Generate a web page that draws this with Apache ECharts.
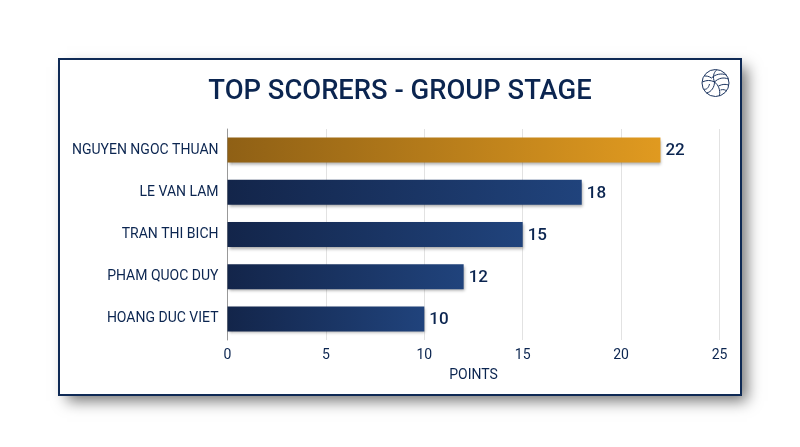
<!DOCTYPE html>
<html>
<head>
<meta charset="utf-8">
<style>
html,body{margin:0;padding:0;background:#fff;}
#show{width:800px;height:447px;}
</style>
<script src="https://cdn.jsdelivr.net/npm/echarts@6/dist/echarts.min.js"></script>
</head>
<body>
<div id="show"></div>
<script>
var players = ['NGUYEN NGOC THUAN', 'LE VAN LAM', 'TRAN THI BICH', 'PHAM QUOC DUY', 'HOANG DUC VIET'];
var points = [22, 18, 15, 12, 10];
var navy = '#0b2550';

function barColor(i) {
    var c = i === 0 ? ['#8f6015', '#e09a20'] : ['#13254a', '#20437c'];
    return new echarts.graphic.LinearGradient(0, 0, 1, 0, [
        {offset: 0, color: c[0]},
        {offset: 1, color: c[1]}
    ]);
}

var barData = [];
for (var i = 0; i < points.length; i++) {
    barData.push({value: points[i], itemStyle: {color: barColor(i)}});
}

// seams of the ball icon
function seam(x1, y1, cpx1, cpy1, cpx2, cpy2, x2, y2) {
    return {
        type: 'bezierCurve',
        shape: {x1: x1, y1: y1, cpx1: cpx1, cpy1: cpy1, cpx2: cpx2, cpy2: cpy2, x2: x2, y2: y2},
        style: {fill: 'none', stroke: '#1c3560', lineWidth: 1}
    };
}

var myChart = echarts.init(document.getElementById('show'));
var option = {
    animation: false,
    backgroundColor: '#fff',
    title: {
        text: 'TOP SCORERS - GROUP STAGE',
        left: 'center',
        top: 74,
        textStyle: {fontFamily: 'Roboto', fontSize: 27.4, fontWeight: 500, color: navy}
    },
    grid: {left: 227.5, right: 80.5, top: 129, height: 211},
    xAxis: {
        type: 'value',
        min: 0,
        max: 25,
        interval: 5,
        name: 'POINTS',
        nameLocation: 'middle',
        nameGap: 28,
        nameTextStyle: {fontFamily: 'Roboto', fontSize: 14, color: navy},
        axisLine: {show: false},
        axisTick: {show: false},
        axisLabel: {fontFamily: 'Roboto', fontSize: 14, color: navy, margin: 8},
        splitLine: {lineStyle: {color: '#e2e2e2', width: 1}}
    },
    yAxis: {
        type: 'category',
        inverse: true,
        data: players,
        axisLine: {lineStyle: {color: '#999', width: 1}},
        axisTick: {show: false},
        axisLabel: {fontFamily: 'Roboto', fontSize: 14, color: navy, margin: 9, padding: [2, 0, 0, 0]}
    },
    series: [
        {
            type: 'bar',
            data: barData,
            barWidth: 25,
            z: 3,
            itemStyle: {shadowColor: 'rgba(0,0,0,0.35)', shadowBlur: 3, shadowOffsetX: 1, shadowOffsetY: 2},
            label: {
                show: true,
                position: 'right',
                distance: 5,
                offset: [0, 1],
                fontFamily: 'Roboto',
                fontSize: 17,
                fontWeight: 500,
                color: navy
            }
        }
    ],
    graphic: [
        {
            type: 'rect',
            z: -11,
            silent: true,
            shape: {x: 60, y: 60, width: 680, height: 334},
            style: {
                fill: '#fff',
                shadowColor: 'rgba(0,0,0,0.55)',
                shadowBlur: 14,
                shadowOffsetX: 7,
                shadowOffsetY: 7
            }
        },
        {
            type: 'rect',
            z: -10,
            silent: true,
            shape: {x: 59, y: 59, width: 682, height: 336},
            style: {fill: 'none', stroke: '#0f2a55', lineWidth: 2}
        },
        {
            type: 'group',
            x: 715.5,
            y: 83,
            silent: true,
            children: [
                {type: 'circle', shape: {cx: 0, cy: 0, r: 13.5}, style: {fill: '#fff', stroke: '#1c3560', lineWidth: 1}},
                // top band, sweeping from the junction to the upper right
                seam(-1, -1, -3, -6, -2, -10, 1, -13),
                seam(-1, -1, 3, -5, 8, -6, 13, -4),
                seam(-4, -5, 0, -9, 6, -10, 11, -8),
                // left band
                seam(-1, -1, -5, -3, -9, -3, -13, -1),
                seam(-4, -5, -7, -7, -9, -7, -11, -7),
                seam(-1, -1, -1, 4, -4, 9, -9, 10),
                seam(-6, 1, -7, 5, -9, 7, -12, 6),
                // bottom right band
                seam(-1, -1, 3, 2, 5, 7, 4, 13),
                seam(3, 3, 7, 1, 10, 1, 13, 2),
                seam(5, 7, 8, 6, 10, 7, 11, 8)
            ]
        }
    ]
};
myChart.setOption(option);
</script>
</body>
</html>
